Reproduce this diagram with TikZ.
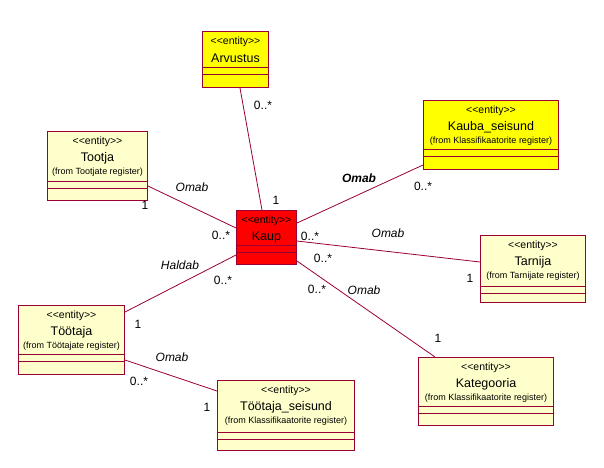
\documentclass[tikz,border=0pt]{standalone}
\usepackage{fontspec}
\setmainfont{Liberation Sans}
\usetikzlibrary{positioning,calc}
\definecolor{umlline}{RGB}{153,0,51}
\definecolor{paleyellow}{RGB}{255,255,204}
\definecolor{umlyellow}{RGB}{255,255,0}
\definecolor{umlred}{RGB}{255,0,0}
\tikzset{
  classbox/.style={draw=umlline,line width=1pt,rectangle,inner sep=0pt,anchor=north west},
  classsep/.style={draw=umlline,line width=1pt},
  assoc/.style={draw=umlline,line width=.8pt},
  stereotext/.style={font=\fontsize{10.5}{12}\selectfont},
  titletext/.style={font=\fontsize{12.5}{14}\selectfont},
  fromtext/.style={font=\fontsize{9}{10}\selectfont},
  rolelabel/.style={font=\fontsize{12}{14}\selectfont\itshape},
  multlabel/.style={font=\fontsize{12}{14}\selectfont},
}
\newcommand{\stereo}[1]{<\kern0pt<#1>\kern0pt>}
% name, x, y, width, height, fill, first separator, title, from
\newcommand{\umlclass}[9]{%
  \node[classbox,fill=#6,minimum width=#4pt,minimum height=#5pt] (#1) at (#2,#3) {};
  \draw[classsep] ([yshift=-#7pt]#1.north west) -- ([yshift=-#7pt]#1.north east);
  \draw[classsep] ([yshift={-(#7+7)*1pt}]#1.north west) -- ([yshift={-(#7+7)*1pt}]#1.north east);
  \node[stereotext] (#1-st) at ([yshift=-11pt]#1.north) {\stereo{entity}};
  \node[titletext] (#1-ti) at ([yshift=-27pt]#1.north) {#8};
  \node[fromtext] (#1-fr) at ([yshift=-41pt]#1.north) {#9};
}

\begin{document}
\begin{tikzpicture}[x=1pt,y=-1pt]
\useasboundingbox[fill=white] (0,0) rectangle (604,467);
% classes
\umlclass{arvustus}{202}{31}{66}{56}{umlyellow}{36}{Arvustus}{}
\umlclass{tootja}{47}{131}{100}{69}{paleyellow}{50}{Tootja}{(from Tootjate register)}
\umlclass{kauba}{423}{100}{135}{69}{umlyellow}{49}{Kauba\_seisund}{(from Klassifikaatorite register)}
\umlclass{kaup}{236}{210}{60}{54}{umlred}{35}{Kaup}{}
\umlclass{tarnija}{480}{235}{105}{67}{paleyellow}{51}{Tarnija}{(from Tarnijate register)}
\umlclass{tootaja}{18}{305}{106}{69}{paleyellow}{49}{Töötaja}{(from Töötajate register)}
\umlclass{tseisund}{217}{380}{137}{70}{paleyellow}{52}{Töötaja\_seisund}{(from Klassifikaatorite register)}
\umlclass{kategooria}{418}{357}{135}{68}{paleyellow}{49}{Kategooria}{(from Klassifikaatorite register)}
% associations
\draw[assoc] ($(arvustus.south west)+(38,0)$) -- ($(kaup.north west)+(26,0)$);
\draw[assoc] ($(tootja.north east)+(0,55)$) -- ($(kaup.north west)+(0,18)$);
\draw[assoc] ($(kaup.north east)+(0,13)$) -- ($(kauba.north west)+(0,65)$);
\draw[assoc] ($(kaup.north east)+(0,31)$) -- ($(tarnija.north west)+(0,27)$);
\draw[assoc] ($(kaup.north east)+(0,51)$) -- ($(kategooria.north west)+(17,0)$);
\draw[assoc] ($(kaup.north west)+(0,45)$) -- ($(tootaja.north east)+(0,7)$);
\draw[assoc] ($(tootaja.north east)+(0,55)$) -- ($(tseisund.north west)+(0,11)$);
% labels
\node[multlabel] (m-arv) at (263,105) {0..*};
\node[multlabel] (m-kaup-top) at (276,200) {1};
\node[rolelabel] (r-tootja) at (192,187) {Omab};
\node[multlabel] (m-tootja) at (145,205) {1};
\node[multlabel] (m-kaup-tootja) at (221,235) {0..*};
\node[rolelabel,font=\fontsize{12}{14}\selectfont\bfseries\itshape] (r-kauba) at (359,178) {Omab};
\node[multlabel] (m-kauba) at (423,186) {0..*};
\node[multlabel] (m-kaup-tarnija) at (310,236) {0..*};
\node[rolelabel] (r-tarnija) at (388,233) {Omab};
\node[multlabel] (m-tarnija) at (470,278) {1};
\node[multlabel] (m-kaup-kauba) at (323,258) {0..*};
\node[multlabel] (m-kaup-kat) at (317,289) {0..*};
\node[rolelabel] (r-kat) at (364,290) {Omab};
\node[multlabel] (m-kat) at (438,338) {1};
\node[rolelabel] (r-haldab) at (180,265) {Haldab};
\node[multlabel] (m-kaup-tootaja) at (223,280) {0..*};
\node[multlabel] (m-tootaja) at (138,324) {1};
\node[rolelabel] (r-tseisund) at (172,357) {Omab};
\node[multlabel] (m-tootaja-ts) at (139,381) {0..*};
\node[multlabel] (m-tseisund) at (207,407) {1};
\end{tikzpicture}
\end{document}
